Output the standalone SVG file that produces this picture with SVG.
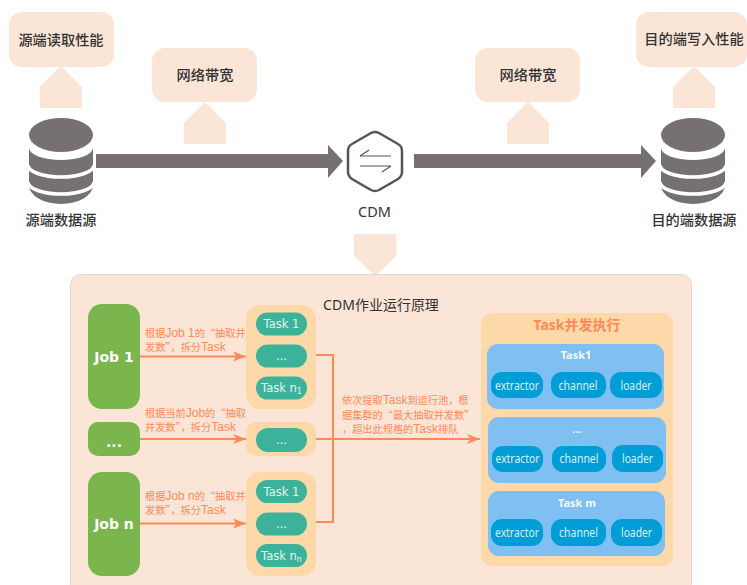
<svg xmlns="http://www.w3.org/2000/svg" width="747" height="585" viewBox="0 0 747 585">
<defs>
<style>
text{font-family:"Liberation Sans","Noto Sans CJK SC",sans-serif;text-anchor:middle}
.peach{fill:#fbe5d7}
.callt{font-size:14.2px;font-weight:500;fill:#333;font-family:"Noto Sans CJK SC",sans-serif}
.grey{fill:#767170}
.gap{fill:none;stroke:#fff;stroke-width:3.5}
.job{fill:#7ab54d}
.jobt{font-family:"DejaVu Sans",sans-serif;font-weight:700;font-size:14px;fill:#fff}
.cont{fill:#fdd9a9}
.pill{fill:#3db29b}
.pillt{font-family:"DejaVu Sans",sans-serif;font-size:11.500px;fill:#e4f5f1}
.lab{font-size:10.200px;fill:#ff8a56;text-anchor:start;font-family:"Noto Sans CJK SC",sans-serif}
.l{font-size:12px;font-family:"Liberation Sans",sans-serif}
.blue{fill:#7fbff2}
.bt{font-family:"Noto Sans",sans-serif;font-weight:700;font-size:11px;fill:#f2f8fd}
.sub{fill:#009dd6}
.subt{font-family:"Noto Sans",sans-serif;font-size:12px;fill:#d8f0fa}
.line{fill:none;stroke:#ff8a56;stroke-width:2}
</style>
<marker id="arr" markerUnits="userSpaceOnUse" markerWidth="14" markerHeight="12" refX="13" refY="6" orient="auto">
<path d="M0 1 L13 6 L0 11 L3.500 6 Z" fill="#ff8a56"/>
</marker>
<g id="dbshape">
<ellipse cx="0" cy="17" rx="32" ry="17" class="grey"/>
<path class="grey" d="M-32 30 A32 12 0 0 0 32 30 V67 A32 19 0 0 1 -32 67 Z"/>
<path class="gap" d="M-33 47 A33 12 0 0 0 33 47"/>
<path class="gap" d="M-33 64 A33 12 0 0 0 33 64"/>
</g>
</defs>
<rect width="747" height="585" fill="#fff"/>

<g id="connectors">
<path class="grey" d="M96 154 H328 V145 L343 161 L328 178 V168 H96 Z"/>
<path class="grey" d="M414 154 H641 V145 L656 161 L641 178 V168 H414 Z"/>
</g>

<g id="source-perf">
<rect class="peach" x="9" y="12" width="105" height="55" rx="13"/>
<path class="peach" d="M61 66 L82 87 V108 H40 V87 Z"/>
<text class="callt" x="61" y="45">源端读取性能</text>
</g>
<g id="bandwidth-left">
<rect class="peach" x="152" y="48" width="105" height="54" rx="13"/>
<path class="peach" d="M205 102 L226 123 V144 H184 V123 Z"/>
<text class="callt" x="205" y="80">网络带宽</text>
</g>
<g id="bandwidth-right">
<rect class="peach" x="475" y="48" width="105" height="54" rx="13"/>
<path class="peach" d="M528 102 L549 123 V144 H507 V123 Z"/>
<text class="callt" x="528" y="80">网络带宽</text>
</g>
<g id="target-perf">
<rect class="peach" x="636" y="12" width="111" height="55" rx="13"/>
<path class="peach" d="M694 66 L715 87 V108 H673 V87 Z"/>
<text class="callt" x="694" y="44">目的端写入性能</text>
</g>
<g id="source-db">
<use href="#dbshape" x="61" y="118"/>
<text class="callt" x="61" y="225">源端数据源</text>
</g>
<g id="target-db">
<use href="#dbshape" x="693" y="118"/>
<text class="callt" x="694" y="225">目的端数据源</text>
</g>
<g id="cdm">
<path d="M371 133 Q375 131 379 133 L398 144 Q402 146 402 151 V172 Q402 176 398 179 L379 190 Q375 192 371 190 L352 179 Q348 176 348 172 V151 Q348 146 352 144 Z" fill="#fff" stroke="#555" stroke-width="2.500"/>
<path d="M360 156 H391 M360 166 H391 M360 156 L369 150 M391 166 L382 172" fill="none" stroke="#555" stroke-width="1.200"/>
<text x="374.500" y="217" style="font-family:'Noto Sans',sans-serif;font-size:14.500px;fill:#333">CDM</text>
</g>

<g id="panel">
<path class="peach" d="M354 234 H396 V256 L375 276 L354 256 Z"/>
<rect x="70.500" y="274.500" width="621" height="320" rx="10" fill="#fbe5d7" stroke="#dedad7"/>
<text x="381" y="310" style="font-size:14px;fill:#333;font-family:'Noto Sans','Noto Sans CJK SC',sans-serif">CDM作业运行原理</text>
</g>

<g id="job-1">
<rect class="job" x="88" y="304" width="52" height="105" rx="14"/>
<text class="jobt" x="114" y="362">Job 1</text>
</g>
<g id="job-mid">
<rect class="job" x="88" y="422" width="52" height="34" rx="10"/>
<text class="jobt" x="114" y="447">...</text>
</g>
<g id="job-n">
<rect class="job" x="88" y="472" width="52" height="104" rx="14"/>
<text class="jobt" x="114" y="529">Job n</text>
</g>

<g id="tasks-1">
<rect class="cont" x="246" y="305" width="70" height="104" rx="14"/>
<rect class="pill" x="256" y="312.500" width="51" height="23" rx="11.500"/>
<text class="pillt" x="281.500" y="328">Task 1</text>
<rect class="pill" x="256" y="344.500" width="51" height="23" rx="11.500"/>
<text class="pillt" x="281.500" y="360">...</text>
<rect class="pill" x="256" y="376.500" width="51" height="23" rx="11.500"/>
<text class="pillt" x="281.500" y="392">Task n<tspan font-size="8" dy="2">1</tspan></text>
</g>
<g id="tasks-mid">
<rect class="cont" x="246" y="422" width="70" height="34" rx="10"/>
<rect class="pill" x="256" y="428" width="51" height="24" rx="12"/>
<text class="pillt" x="281.500" y="444">...</text>
</g>
<g id="tasks-n">
<rect class="cont" x="246" y="472" width="70" height="104" rx="14"/>
<rect class="pill" x="256" y="480" width="51" height="23" rx="11.500"/>
<text class="pillt" x="281.500" y="496">Task 1</text>
<rect class="pill" x="256" y="512.500" width="51" height="23" rx="11.500"/>
<text class="pillt" x="281.500" y="528">...</text>
<rect class="pill" x="256" y="544" width="51" height="23" rx="11.500"/>
<text class="pillt" x="281.500" y="560">Task n<tspan font-size="8" dy="2">n</tspan></text>
</g>

<g id="flow">
<path class="line" d="M140 356.500 H246" marker-end="url(#arr)"/>
<path class="line" d="M140 439 H246" marker-end="url(#arr)"/>
<path class="line" d="M140 523.500 H246" marker-end="url(#arr)"/>
<path class="line" d="M316 355 H333 V522 H316"/>
<path class="line" d="M316 439 H480" marker-end="url(#arr)"/>
<text class="lab" x="145" y="337">根据<tspan class="l">Job 1</tspan>的“抽取并</text>
<text class="lab" x="145" y="351">发数”，拆分<tspan class="l">Task</tspan></text>
<text class="lab" x="145" y="417">根据当前<tspan class="l">Job</tspan>的“抽取</text>
<text class="lab" x="145" y="431">并发数”，拆分<tspan class="l">Task</tspan></text>
<text class="lab" x="145" y="500">根据<tspan class="l">Job n</tspan>的“抽取并</text>
<text class="lab" x="145" y="514">发数”，拆分<tspan class="l">Task</tspan></text>
<text class="lab" x="342" y="404">依次提取<tspan class="l">Task</tspan>到运行池，根</text>
<text class="lab" x="342" y="418.500">据集群的“最大抽取并发数”</text>
<text class="lab" x="342" y="433">，超出此规格的<tspan class="l">Task</tspan>排队</text>
</g>

<g id="task-exec">
<rect class="cont" x="481" y="313" width="192" height="253" rx="11"/>
<text x="577" y="330" style="font-family:'Noto Sans','Noto Sans CJK SC',sans-serif;font-weight:700;font-size:14px;fill:#ff8a56">Task并发执行</text>
</g>
<g id="task1">
<rect class="blue" x="487" y="344" width="177" height="65" rx="11"/>
<text class="bt" x="576" y="359">Task1</text>
<rect class="sub" x="491" y="372" width="52" height="26" rx="11"/><text class="subt" x="517" y="390" textLength="44" lengthAdjust="spacingAndGlyphs">extractor</text>
<rect class="sub" x="551" y="372" width="55" height="26" rx="11"/><text class="subt" x="578" y="390" textLength="39" lengthAdjust="spacingAndGlyphs">channel</text>
<rect class="sub" x="610" y="372" width="52" height="26" rx="11"/><text class="subt" x="636" y="390" textLength="31" lengthAdjust="spacingAndGlyphs">loader</text>
</g>
<g id="task-dots">
<rect class="blue" x="488" y="417" width="178" height="66" rx="11"/>
<text class="bt" x="577" y="433">...</text>
<rect class="sub" x="492" y="446" width="51" height="26" rx="11"/><text class="subt" x="517.500" y="463" textLength="44" lengthAdjust="spacingAndGlyphs">extractor</text>
<rect class="sub" x="552" y="446" width="54" height="26" rx="11"/><text class="subt" x="579" y="463" textLength="39" lengthAdjust="spacingAndGlyphs">channel</text>
<rect class="sub" x="612" y="445" width="51" height="27" rx="11"/><text class="subt" x="637.500" y="463" textLength="31" lengthAdjust="spacingAndGlyphs">loader</text>
</g>
<g id="task-m">
<rect class="blue" x="488" y="491" width="177" height="65" rx="11"/>
<text class="bt" x="577" y="507">Task m</text>
<rect class="sub" x="491" y="519" width="52" height="27" rx="11"/><text class="subt" x="517" y="537" textLength="44" lengthAdjust="spacingAndGlyphs">extractor</text>
<rect class="sub" x="551" y="519" width="55" height="27" rx="11"/><text class="subt" x="578.500" y="537" textLength="39" lengthAdjust="spacingAndGlyphs">channel</text>
<rect class="sub" x="611" y="519" width="51" height="27" rx="11"/><text class="subt" x="636.500" y="537" textLength="31" lengthAdjust="spacingAndGlyphs">loader</text>
</g>
</svg>
